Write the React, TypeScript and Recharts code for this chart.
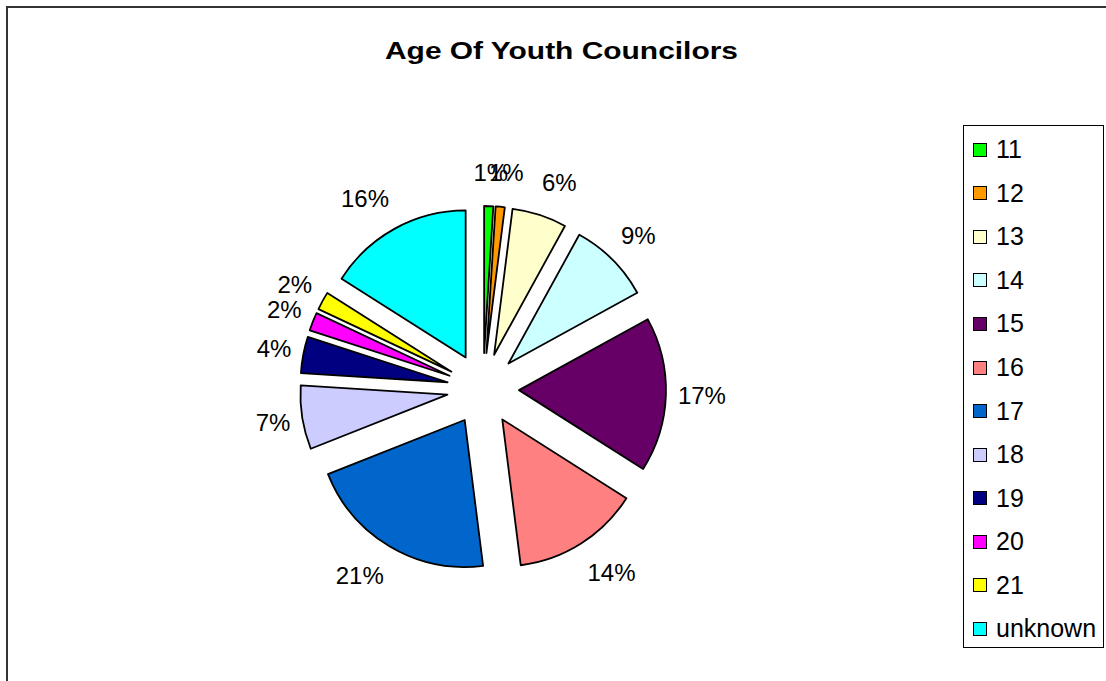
import { PieChart, Pie, Cell, Sector, Legend } from 'recharts';

const ages = ['11', '12', '13', '14', '15', '16', '17', '18', '19', '20', '21', 'unknown'];
const shares = [1, 1, 6, 9, 17, 14, 21, 7, 4, 2, 2, 16];
const colors = ['#00FF00', '#FF9900', '#FFFFCC', '#CCFFFF', '#660066', '#FF8080', '#0066CC', '#CCCCFF', '#000080', '#FF00FF', '#FFFF00', '#00FFFF'];

const data = ages.map((age, i) => ({ name: age, value: shares[i] }));

const FONT = 'Arial, "Liberation Sans", sans-serif';
const RADIAN = Math.PI / 180;
const EXPLODE = 36;
const LABEL_FONT = 24;

// exploded slice + its percentage label, drawn from the pie's own angles
function renderSlice(props: any) {
  const { cx, cy, midAngle, outerRadius, startAngle, endAngle, percent, index } = props;
  const dx = Math.cos(-midAngle * RADIAN);
  const dy = Math.sin(-midAngle * RADIAN);
  const text = `${Math.round(percent * 100)}%`;
  const halfW = ((text.length - 1) * 0.556 + 0.889) * LABEL_FONT / 2;
  const lx = cx + dx * 195 + halfW * Math.max(-1, Math.min(1, dx * 3));
  const ly = cy + dy * 217;
  return (
    <g>
      <Sector
        cx={cx + dx * EXPLODE}
        cy={cy + dy * EXPLODE}
        innerRadius={0}
        outerRadius={outerRadius}
        startAngle={startAngle}
        endAngle={endAngle}
        fill={colors[index]}
        stroke="#000"
        strokeWidth={1.8}
        strokeLinejoin="round"
      />
      <text x={lx} y={ly} textAnchor="middle" dominantBaseline="central" fontSize={LABEL_FONT} fontFamily={FONT} fill="#000">
        {text}
      </text>
    </g>
  );
}

function LegendBox(props: any) {
  const { payload = [] } = props;
  return (
    <div style={{ width: 141, height: 523, border: '1px solid #000', boxSizing: 'border-box', background: '#fff', paddingTop: 2, fontFamily: FONT, fontSize: 25, color: '#000' }}>
      {payload.map((p: any, i: number) => (
        <div key={p.value} style={{ height: 43.55, display: 'flex', alignItems: 'center', paddingLeft: 9 }}>
          <span style={{ width: 12, height: 12, border: '1.5px solid #000', background: colors[i], display: 'inline-block', marginRight: 9, flex: 'none' }} />
          <span style={{ lineHeight: 1 }}>{p.value}</span>
        </div>
      ))}
    </div>
  );
}

export default function App() {
  return (
    <div style={{ position: 'absolute', left: 0, top: 0, width: 1106, height: 681, overflow: 'hidden', background: '#fff' }}>
      <div style={{ position: 'absolute', left: 6, top: 6, width: 1120, height: 700, border: '2px solid #333' }} />
      <svg width={1106} height={80} style={{ position: 'absolute', left: 0, top: 0 }}>
        <text x={561.5} y={59} textAnchor="middle" fontSize={24} fontWeight="bold" fontFamily={FONT} textLength={353} lengthAdjust="spacingAndGlyphs">
          Age Of Youth Councilors
        </text>
      </svg>
      <div style={{ position: 'absolute', left: 0, top: 0 }}>
        <PieChart width={1106} height={681} margin={{ top: 0, right: 0, bottom: 0, left: 0 }}>
          <Pie
            data={data}
            dataKey="value"
            nameKey="name"
            cx={483}
            cy={389}
            innerRadius={0}
            outerRadius={147}
            startAngle={90}
            endAngle={-270}
            stroke="none"
            label={renderSlice}
            labelLine={false}
            isAnimationActive={false}
          >
            {data.map((d) => (
              <Cell key={d.name} fill="transparent" stroke="none" />
            ))}
          </Pie>
          <Legend
            layout="vertical"
            align="center"
            verticalAlign="middle"
            content={<LegendBox />}
            wrapperStyle={{ left: 963, top: 125, width: 141, height: 523 }}
          />
        </PieChart>
      </div>
    </div>
  );
}
